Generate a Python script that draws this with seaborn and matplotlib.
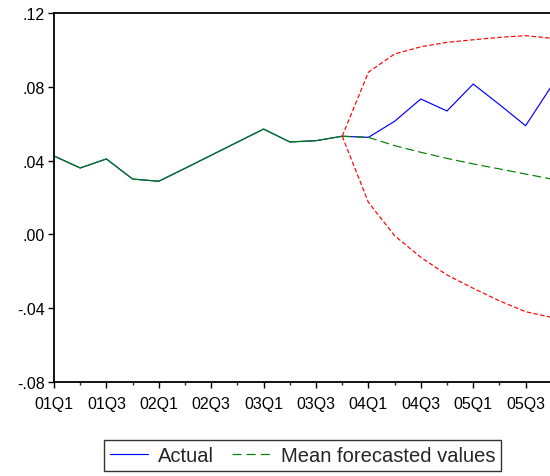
import matplotlib
matplotlib.use("Agg")
import matplotlib.pyplot as plt
import matplotlib.ticker as mticker
from matplotlib.lines import Line2D
import seaborn as sns
import pandas as pd

quarters = ["01Q1", "01Q2", "01Q3", "01Q4", "02Q1", "02Q2", "02Q3", "02Q4",
            "03Q1", "03Q2", "03Q3", "03Q4", "04Q1", "04Q2", "04Q3", "04Q4",
            "05Q1", "05Q2", "05Q3", "05Q4", "06Q1"]

actual = [0.0425, 0.0360, 0.0409, 0.0300, 0.0288, 0.0358, 0.0429, 0.0500,
          0.0571, 0.0501, 0.0508, 0.0532, 0.0526, 0.0613, 0.0734, 0.0669,
          0.0815, 0.0704, 0.0589, 0.0806]

# in-sample part of the mean forecast follows the actual path
mean_hist = [0.0425, 0.0360, 0.0409, 0.0300, 0.0288, 0.0358, 0.0429, 0.0500,
             0.0571, 0.0501, 0.0508, 0.0532]
mean_fc = [0.0532, 0.0526, 0.0481, 0.0445, 0.0412, 0.0382, 0.0355, 0.0327, 0.0300]
upper = [0.0532, 0.0879, 0.0978, 0.1017, 0.1041, 0.1055, 0.1068, 0.1077, 0.1063]
lower = [0.0532, 0.0174, -0.0007, -0.0124, -0.0220, -0.0292, -0.0360, -0.0419, -0.0450]

fc_start = 11

sns.set_style("ticks")
plt.rcParams['font.family'] = ['Liberation Sans', 'DejaVu Sans']

fig = plt.figure(figsize=(5.5, 4.77), dpi=100)
ax = fig.add_axes([54 / 550, 94 / 477, 524 / 550, 369 / 477])

idx_all = list(range(len(actual)))
idx_hist = list(range(len(mean_hist)))
idx_fc = list(range(fc_start, fc_start + len(mean_fc)))

df_act = pd.DataFrame({"t": idx_all, "v": actual})
df_hist = pd.DataFrame({"t": idx_hist, "v": mean_hist})
df_fc = pd.DataFrame({"t": idx_fc, "mean": mean_fc, "up": upper, "lo": lower})

lw = 0.85
sns.lineplot(data=df_act, x="t", y="v", ax=ax, color="#0000FF", lw=lw)
sns.lineplot(data=df_hist, x="t", y="v", ax=ax, color="#008000", lw=lw)
sns.lineplot(data=df_fc, x="t", y="mean", ax=ax, color="#008000", lw=lw,
             linestyle=(0, (7.5, 3.5)))
sns.lineplot(data=df_fc, x="t", y="up", ax=ax, color="#FF0000", lw=lw,
             linestyle=(0, (3.8, 2.0)))
sns.lineplot(data=df_fc, x="t", y="lo", ax=ax, color="#FF0000", lw=lw,
             linestyle=(0, (3.8, 2.0)))

ax.set_xlim(0, 20)
ax.set_ylim(-0.08, 0.12)
ax.set_xlabel("")
ax.set_ylabel("")

ax.xaxis.set_major_locator(mticker.FixedLocator(list(range(0, 19, 2))))
ax.xaxis.set_major_formatter(mticker.FixedFormatter(quarters[0:19:2]))
ax.xaxis.set_minor_locator(mticker.FixedLocator(list(range(1, 21, 2))))

yt = [-0.08, -0.04, 0.0, 0.04, 0.08, 0.12]
ylabels = ["-.08", "-.04", ".00", ".04", ".08", ".12"]
ax.set_yticks(yt)
ax.set_yticklabels(ylabels)

for s in ax.spines.values():
    s.set_visible(True)
    s.set_linewidth(1.3)
    s.set_color("black")

ax.tick_params(axis="both", which="major", direction="out", length=4, width=1.0,
               labelsize=11.5, colors="black")
ax.tick_params(axis="x", which="major", pad=6)
ax.tick_params(axis="x", which="minor", direction="out", length=2.5, width=1.0)
ax.tick_params(axis="y", which="major", pad=2.5)

handles = [Line2D([], [], color="#0000FF", lw=lw),
           Line2D([], [], color="#008000", lw=lw, linestyle=(0, (7.6, 4.4)))]
leg = fig.legend(handles, ["Actual", "Mean forecasted values"], ncol=2,
                 loc="center", bbox_to_anchor=(302.5 / 550, 20.5 / 477),
                 frameon=True, fancybox=False, fontsize=14.5,
                 handlelength=1.9, handletextpad=0.5, columnspacing=0.9,
                 borderpad=0.3, borderaxespad=0)
leg.get_frame().set_edgecolor("black")
leg.get_frame().set_linewidth(1.0)

fig.savefig("out.png", dpi=100)
